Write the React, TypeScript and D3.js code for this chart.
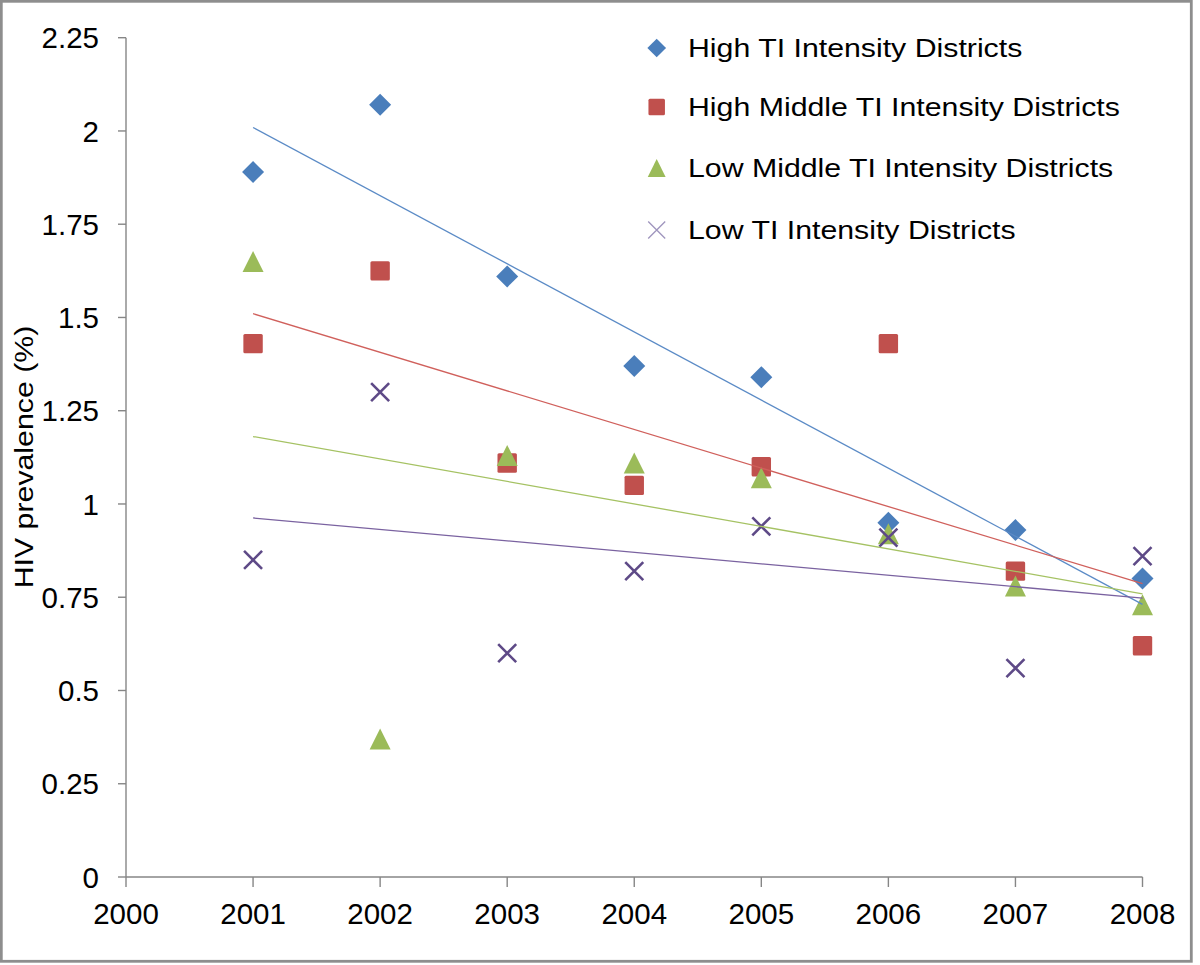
import React from "react";
import * as d3 from "d3";

const years = [2001, 2002, 2003, 2004, 2005, 2006, 2007, 2008];
const highTI = [1.89, 2.07, 1.61, 1.37, 1.34, 0.95, 0.93, 0.8];
const highMiddleTI = [1.43, 1.625, 1.11, 1.05, 1.1, 1.43, 0.82, 0.62];
const lowMiddleTI = [1.65, 0.37, 1.13, 1.11, 1.07, 0.92, 0.78, 0.73];
const lowTI = [0.85, 1.3, 0.6, 0.82, 0.94, 0.91, 0.56, 0.86];
const seriesNames = [
  "High TI Intensity Districts",
  "High Middle TI Intensity Districts",
  "Low Middle TI Intensity Districts",
  "Low TI Intensity Districts",
];
const yTicks = [0, 0.25, 0.5, 0.75, 1, 1.25, 1.5, 1.75, 2, 2.25];
const xTicks = [2000, 2001, 2002, 2003, 2004, 2005, 2006, 2007, 2008];
const yLabel = "HIV prevalence (%)";

type Shape = "diamond" | "square" | "triangle" | "x";
const seriesData = [highTI, highMiddleTI, lowMiddleTI, lowTI];
const shapes: Shape[] = ["diamond", "square", "triangle", "x"];
const markerColors = ["#4A7EBB", "#C0504D", "#9BBB59", "#5E4A87"];
const lineColors = ["#5B8BC6", "#D0605C", "#A5C263", "#7A62A0"];
const legendColors = ["#4A7EBB", "#C0504D", "#9BBB59", "#9E94BD"];

function regression(xs: number[], ys: number[]) {
  const mx = d3.mean(xs)!;
  const my = d3.mean(ys)!;
  let sxy = 0;
  let sxx = 0;
  xs.forEach((x, i) => {
    sxy += (x - mx) * (ys[i] - my);
    sxx += (x - mx) * (x - mx);
  });
  const slope = sxy / sxx;
  return (x: number) => my + slope * (x - mx);
}

function Marker({ shape, cx, cy, color, legend }: { shape: Shape; cx: number; cy: number; color: string; legend?: boolean }) {
  const s = legend ? 0.85 : 1;
  if (shape === "diamond") {
    const r = 11 * s;
    return <path d={`M${cx},${cy - r}L${cx + r},${cy}L${cx},${cy + r}L${cx - r},${cy}Z`} fill={color} />;
  }
  if (shape === "square") {
    const h = 9.7 * s;
    return <rect x={cx - h} y={cy - h} width={2 * h} height={2 * h} rx={1.5} fill={color} />;
  }
  if (shape === "triangle") {
    const w = 10.5 * s;
    const hh = 10.5 * s;
    return <path d={`M${cx},${cy - hh}L${cx + w},${cy + hh}L${cx - w},${cy + hh}Z`} fill={color} />;
  }
  const a = legend ? 8.5 : 9;
  return (
    <path
      d={`M${cx - a},${cy - a}L${cx + a},${cy + a}M${cx - a},${cy + a}L${cx + a},${cy - a}`}
      stroke={color}
      strokeWidth={legend ? 1.3 : 2.6}
      fill="none"
    />
  );
}

export default function App() {
  const x = d3.scaleLinear().domain([2000, 2008]).range([126, 1142.5]);
  const y = d3.scaleLinear().domain([0, 2.25]).range([877, 37.7]);
  const font = "'Liberation Sans', Arial, sans-serif";
  const line = d3
    .line<number>()
    .x((d) => x(d))
    .y((d) => d);

  const trend = seriesData.map((vals) => {
    const f = regression(years, vals);
    const ends = [years[0], years[years.length - 1]];
    return d3.line<number>().x((d) => x(d)).y((d) => y(f(d)))(ends)!;
  });
  void line;

  const legendRowsY = [48, 107, 168, 230];

  return (
    <svg
      width={1200}
      height={965}
      style={{ position: "absolute", left: 0, top: 0, background: "#fff" }}
      fontFamily={font}
    >
      <rect x={0} y={0} width={1200} height={965} fill="#fff" />
      <rect x={1.3} y={1.3} width={1190} height={960} fill="none" stroke="#8E8E8E" strokeWidth={2.8} />

      {/* axes */}
      <line x1={x(2000)} x2={x(2000)} y1={y(0)} y2={y(2.25)} stroke="#868686" strokeWidth={1.4} />
      <line x1={x(2000)} x2={x(2008)} y1={y(0)} y2={y(0)} stroke="#868686" strokeWidth={1.4} />
      {yTicks.map((t) => (
        <g key={"y" + t}>
          <line x1={x(2000) - 8} x2={x(2000)} y1={y(t)} y2={y(t)} stroke="#868686" strokeWidth={1.4} />
          <text x={99} y={y(t)} dy="0.36em" textAnchor="end" fontSize={29.5} fill="#000">
            {String(t)}
          </text>
        </g>
      ))}
      {xTicks.map((t) => (
        <g key={"x" + t}>
          <line x1={x(t)} x2={x(t)} y1={y(0)} y2={y(0) + 10} stroke="#868686" strokeWidth={1.4} />
          <text x={x(t)} y={923.5} textAnchor="middle" fontSize={29.5} fill="#000">
            {String(t)}
          </text>
        </g>
      ))}
      <g transform="translate(33,457) rotate(-90) scale(1.165,1)">
        <text x={0} y={0} textAnchor="middle" fontSize={26} fill="#000">
          {yLabel}
        </text>
      </g>

      {/* markers */}
      {seriesData.map((vals, si) => (
        <g key={"s" + si}>
          {vals.map((v, i) => (
            <Marker key={i} shape={shapes[si]} cx={x(years[i])} cy={y(v)} color={markerColors[si]} />
          ))}
        </g>
      ))}

      {/* trendlines */}
      {trend.map((d, si) => (
        <path key={"t" + si} d={d} stroke={lineColors[si]} strokeWidth={1.3} fill="none" />
      ))}

      {/* legend */}
      {seriesNames.map((name, si) => (
        <g key={"l" + si}>
          <Marker shape={shapes[si]} cx={656.7} cy={legendRowsY[si]} color={legendColors[si]} legend />
          <g transform={`translate(688,${legendRowsY[si]}) scale(1.165,1)`}>
            <text x={0} y={0} dy="0.36em" fontSize={26} fill="#000">
              {name}
            </text>
          </g>
        </g>
      ))}
    </svg>
  );
}
